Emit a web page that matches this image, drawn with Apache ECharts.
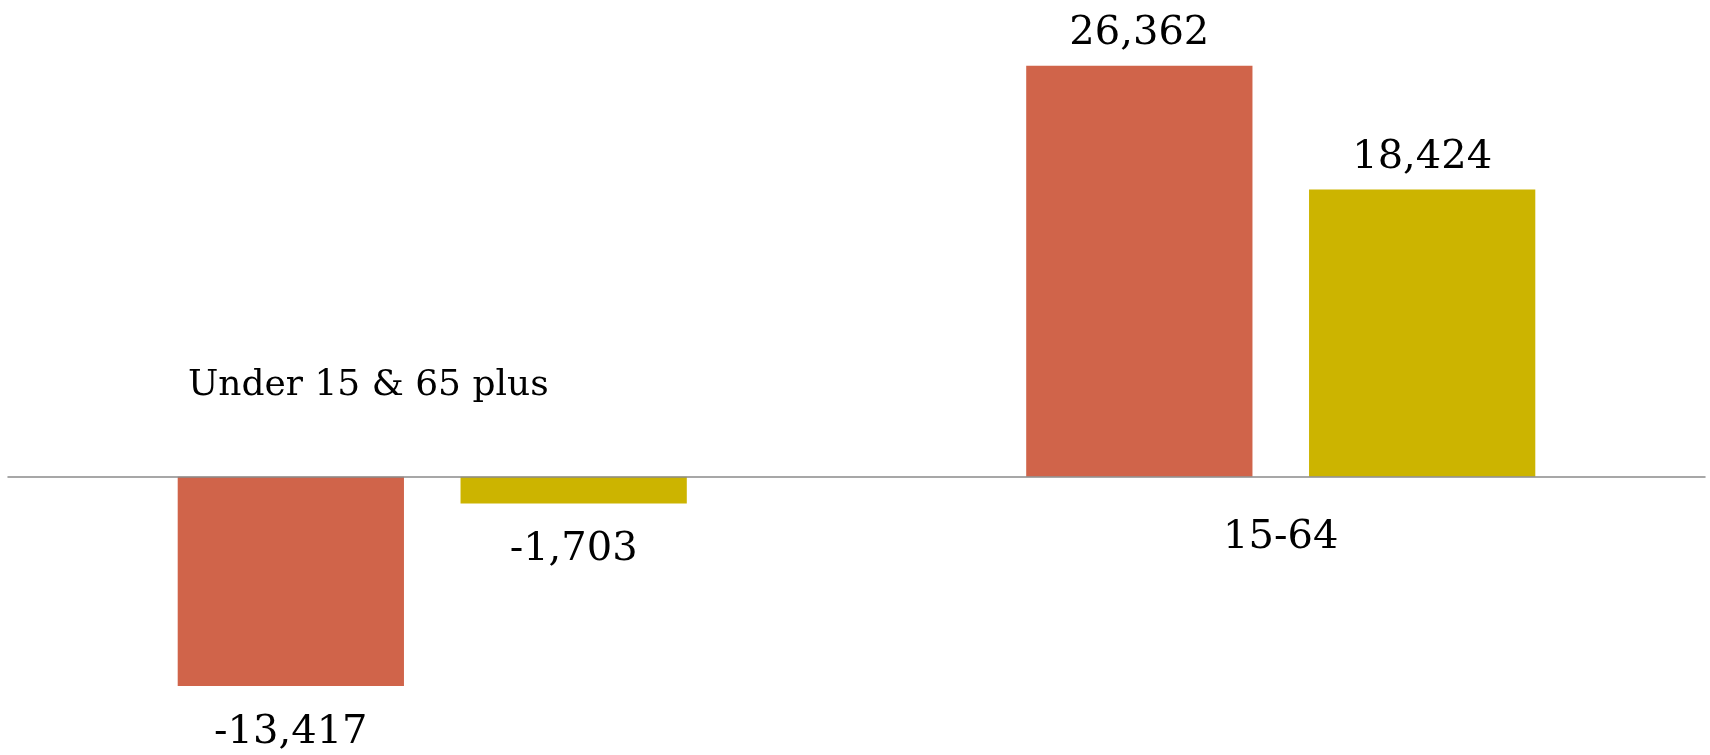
<!DOCTYPE html>
<html>
<head>
<meta charset="utf-8">
<script src="https://cdn.jsdelivr.net/npm/echarts@6/dist/echarts.min.js"></script>
<style>
html,body{margin:0;padding:0;background:#fff;}
#chart{width:1710px;height:755px;}
</style>
</head>
<body>
<div id="chart"></div>
<script>
const categories = ['Under 15 & 65 plus', '15-64'];
const seriesNames = ['Series 1', 'Series 2'];
const series1Values = [-13417, 26362];
const series2Values = [-1703, 18424];
const seriesColors = ['#D0644A', '#CCB400'];

const FONT = 'DejaVu Serif';
const Y_MIN = -17000, Y_MAX = 30000;
const GRID_TOP = 9, GRID_BOTTOM = 13, CHART_H = 755;
const gridH = CHART_H - GRID_TOP - GRID_BOTTOM;
const zeroOffset = -gridH * (0 - Y_MIN) / (Y_MAX - Y_MIN);

function toItems(vals) {
  return vals.map(v => ({
    value: v,
    label: { position: v < 0 ? 'bottom' : 'top', distance: v < 0 ? 26 : 12 }
  }));
}

function makeSeries(name, vals, color) {
  return {
    name: name,
    type: 'bar',
    xAxisIndex: 0,
    data: toItems(vals),
    barCategoryGap: '40%',
    barGap: '25%',
    itemStyle: { color: color },
    z: 2,
    label: {
      show: true,
      fontFamily: FONT,
      fontSize: 40,
      color: '#000',
      formatter: p => p.value.toLocaleString('en-US')
    }
  };
}

const chart = echarts.init(document.getElementById('chart'));
chart.setOption({
  animation: false,
  backgroundColor: '#ffffff',
  grid: { left: 8, right: 5, top: GRID_TOP, bottom: GRID_BOTTOM, containLabel: false, outerBoundsMode: 'none' },
  xAxis: [
    {
      type: 'category',
      data: categories,
      position: 'bottom',
      offset: zeroOffset,
      z: 5,
      axisLine: { show: true, onZero: false, lineStyle: { color: '#8a8a8a', width: 1.5 } },
      axisTick: { show: false },
      splitLine: { show: false },
      axisLabel: {
        interval: 0,
        margin: 41,
        fontFamily: FONT,
        color: '#000',
        formatter: (v, i) => i === 0 ? '' : '{b|' + v + '}',
        rich: { b: { fontFamily: FONT, fontSize: 40, color: '#000' } }
      }
    },
    {
      type: 'category',
      data: categories,
      position: 'bottom',
      offset: zeroOffset,
      axisLine: { show: false, onZero: false },
      axisTick: { show: false },
      splitLine: { show: false },
      axisLabel: {
        interval: 0,
        inside: true,
        margin: 73,
        fontFamily: FONT,
        color: '#000',
        formatter: (v, i) => i === 0 ? '{a|' + v + '}' : '',
        rich: { a: { fontFamily: FONT, fontSize: 36, color: '#000', padding: [0, 128, 0, 0] } }
      }
    }
  ],
  yAxis: {
    type: 'value',
    min: Y_MIN,
    max: Y_MAX,
    show: false,
    splitLine: { show: false }
  },
  series: [
    makeSeries(seriesNames[0], series1Values, seriesColors[0]),
    makeSeries(seriesNames[1], series2Values, seriesColors[1])
  ]
});
</script>
</body>
</html>
